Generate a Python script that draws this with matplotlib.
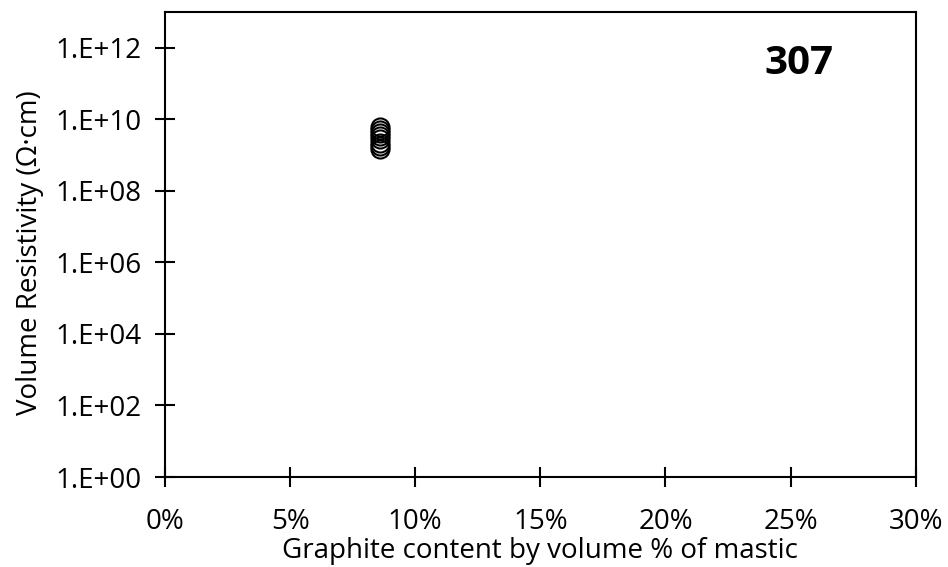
import matplotlib
matplotlib.use("Agg")
import matplotlib.pyplot as plt
from matplotlib.ticker import FixedLocator, NullLocator

graphite_content = [0.086, 0.086, 0.086, 0.086, 0.086, 0.086, 0.086, 0.086]
resistivity = [6.0e9, 5.0e9, 4.2e9, 3.5e9, 2.8e9, 2.2e9, 1.8e9, 1.5e9]
x_ticks = [0.0, 0.05, 0.10, 0.15, 0.20, 0.25, 0.30]
x_tick_labels = ["0%", "5%", "10%", "15%", "20%", "25%", "30%"]
y_ticks = [1e0, 1e2, 1e4, 1e6, 1e8, 1e10, 1e12]
y_tick_labels = ["1.E+00", "1.E+02", "1.E+04", "1.E+06", "1.E+08", "1.E+10", "1.E+12"]
label_text = "307"

plt.rcParams['font.family'] = ['Open Sans', 'DejaVu Sans']

fig = plt.figure(figsize=(9.48, 5.67), dpi=100)
ax = fig.add_axes([0.174, 0.1587, 0.792, 0.8203])

ax.plot(graphite_content, resistivity, linestyle='none', marker='o', markersize=13,
        markerfacecolor='none', markeredgecolor='black', markeredgewidth=1.5)

ax.set_yscale('log')
ax.set_xlim(0, 0.30)
ax.set_ylim(1e0, 1e13)
ax.yaxis.set_major_locator(FixedLocator(y_ticks))
ax.yaxis.set_minor_locator(NullLocator())
ax.set_yticks(y_ticks)
ax.set_yticklabels(y_tick_labels)
ax.set_xticks(x_ticks)
ax.set_xticklabels(x_tick_labels)

for s in ax.spines.values():
    s.set_linewidth(1.5)
    s.set_color('black')

ax.tick_params(axis='both', direction='inout', length=14, width=1.5, labelsize=20, colors='black')
ax.tick_params(axis='x', pad=15)
ax.tick_params(axis='y', pad=10)

ax.set_xlabel("Graphite content by volume % of mastic", fontsize=20, labelpad=1)
ax.set_ylabel("Volume Resistivity (Ω·cm)", fontsize=20, labelpad=8)
ax.yaxis.label.set_y(0.483)

ax.text(0.845, 0.89, label_text, transform=ax.transAxes, fontsize=29, fontweight='bold',
        ha='center', va='center')

fig.savefig("out.png", dpi=100)
